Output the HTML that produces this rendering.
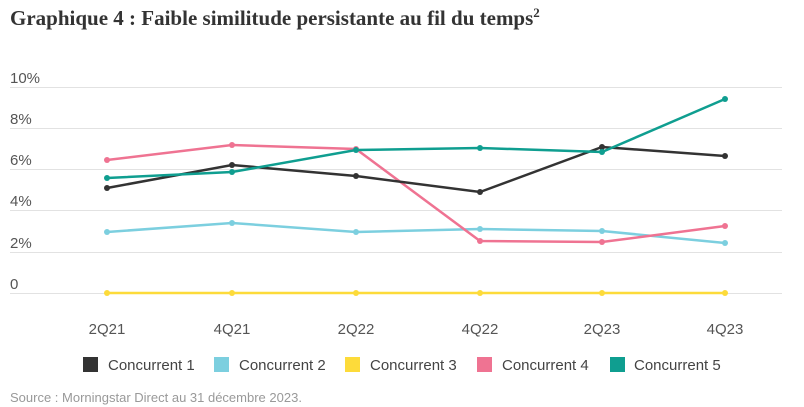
<!DOCTYPE html>
<html><head><meta charset="utf-8"><style>
body{margin:0;background:#fff;width:804px;height:407px;overflow:hidden}
svg{display:block}
</style></head><body>
<svg width="804" height="407" xmlns="http://www.w3.org/2000/svg" font-family="Liberation Sans, sans-serif">
<text x="10" y="25" font-family="Liberation Serif, serif" font-weight="bold" font-size="21" fill="#333">Graphique 4 : Faible similitude persistante au fil du temps<tspan font-size="13" dy="-8">2</tspan></text>
<g stroke="#e2e2e2" stroke-width="1">
<line x1="10" x2="782" y1="87.5" y2="87.5"/><line x1="10" x2="782" y1="128.5" y2="128.5"/>
<line x1="10" x2="782" y1="169.5" y2="169.5"/><line x1="10" x2="782" y1="210.5" y2="210.5"/>
<line x1="10" x2="782" y1="252.5" y2="252.5"/><line x1="10" x2="782" y1="293.5" y2="293.5"/>
</g>
<g font-size="15" fill="#555">
<text x="10" y="83">10%</text><text x="10" y="124">8%</text><text x="10" y="165">6%</text>
<text x="10" y="206">4%</text><text x="10" y="248">2%</text><text x="10" y="289">0</text>
</g>
<g font-size="15" fill="#555" text-anchor="middle">
<text x="107" y="334">2Q21</text><text x="232" y="334">4Q21</text><text x="356" y="334">2Q22</text>
<text x="480" y="334">4Q22</text><text x="602" y="334">2Q23</text><text x="725" y="334">4Q23</text>
</g>
<g fill="none" stroke-width="2.5">
<polyline stroke="#fddb3a" points="107,293 232,293 356,293 480,293 602,293 725,293"/>
<polyline stroke="#7ccfdf" points="107,232 232,223 356,232 480,229 602,231 725,243"/>
<polyline stroke="#ef7392" points="107,160 232,145 356,149 480,241 602,242 725,226"/>
<polyline stroke="#333333" points="107,188 232,165 356,176 480,192 602,147 725,156"/>
<polyline stroke="#0f9e90" points="107,178 232,172 356,150 480,148 602,152 725,99"/>
</g>
<g fill="#fddb3a"><circle cx="107" cy="293" r="3"/><circle cx="232" cy="293" r="3"/><circle cx="356" cy="293" r="3"/><circle cx="480" cy="293" r="3"/><circle cx="602" cy="293" r="3"/><circle cx="725" cy="293" r="3"/></g>
<g fill="#7ccfdf"><circle cx="107" cy="232" r="3"/><circle cx="232" cy="223" r="3"/><circle cx="356" cy="232" r="3"/><circle cx="480" cy="229" r="3"/><circle cx="602" cy="231" r="3"/><circle cx="725" cy="243" r="3"/></g>
<g fill="#ef7392"><circle cx="107" cy="160" r="3"/><circle cx="232" cy="145" r="3"/><circle cx="356" cy="149" r="3"/><circle cx="480" cy="241" r="3"/><circle cx="602" cy="242" r="3"/><circle cx="725" cy="226" r="3"/></g>
<g fill="#333"><circle cx="107" cy="188" r="3"/><circle cx="232" cy="165" r="3"/><circle cx="356" cy="176" r="3"/><circle cx="480" cy="192" r="3"/><circle cx="602" cy="147" r="3"/><circle cx="725" cy="156" r="3"/></g>
<g fill="#0f9e90"><circle cx="107" cy="178" r="3"/><circle cx="232" cy="172" r="3"/><circle cx="356" cy="150" r="3"/><circle cx="480" cy="148" r="3"/><circle cx="602" cy="152" r="3"/><circle cx="725" cy="99" r="3"/></g>
<g font-size="15" fill="#444">
<rect x="83" y="357" width="15" height="15" fill="#333"/><text x="108" y="370">Concurrent 1</text>
<rect x="214" y="357" width="15" height="15" fill="#7ccfdf"/><text x="239" y="370">Concurrent 2</text>
<rect x="345" y="357" width="15" height="15" fill="#fddb3a"/><text x="370" y="370">Concurrent 3</text>
<rect x="477" y="357" width="15" height="15" fill="#ef7392"/><text x="502" y="370">Concurrent 4</text>
<rect x="610" y="357" width="15" height="15" fill="#0f9e90"/><text x="634" y="370">Concurrent 5</text>
</g>
<text x="10" y="402" font-size="13" fill="#999">Source : Morningstar Direct au 31 décembre 2023.</text>
</svg>
</body></html>
